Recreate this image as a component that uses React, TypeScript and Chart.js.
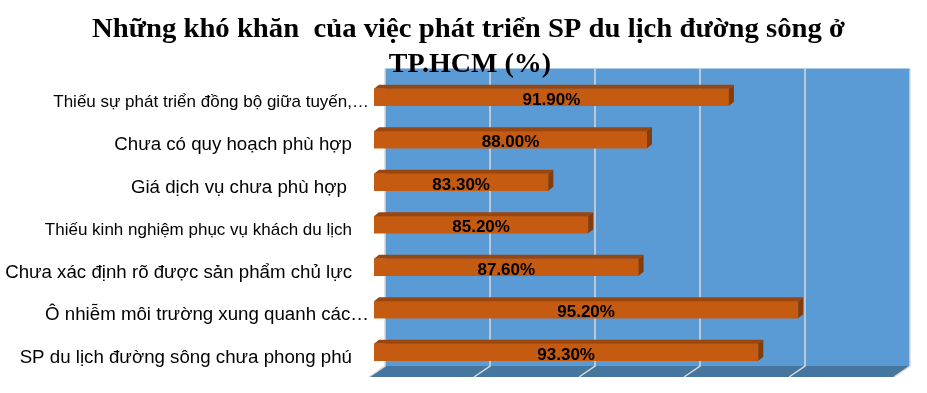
import React, { useEffect, useRef } from 'react';
import { Chart, registerables } from 'chart.js';

Chart.register(...registerables);

const titleLines = ['Những khó khăn  của việc phát triển SP du lịch đường sông ở', 'TP.HCM (%)'];

const categories = [
  'Thiếu sự phát triển đồng bộ giữa tuyến,…',
  'Chưa có quy hoạch phù hợp',
  'Giá dịch vụ chưa phù hợp ',
  'Thiếu kinh nghiệm phục vụ khách du lịch',
  'Chưa xác định rõ được sản phẩm chủ lực',
  'Ô nhiễm môi trường xung quanh các…',
  'SP du lịch đường sông chưa phong phú',
];

const values = [91.9, 88.0, 83.3, 85.2, 87.6, 95.2, 93.3];

const axisMin = 75;
const axisMax = 100;
const axisStep = 5;

// 3D styling constants
const WALL_DX = 11;
const WALL_DY = 7.5;
const FLOOR_DX = 16;
const FLOOR_DY = 11;
const BAR_DX = 5;
const BAR_DY = 4;
const smallLabelIndexes = [0, 3];
const TITLE_WIDTH = 753;

const threeDPlugin = {
  id: 'threeD',
  beforeDatasetsDraw(chart: any) {
    const { ctx, chartArea: ca, scales } = chart;
    const x = scales.x;
    const wl = ca.left + WALL_DX;
    const wr = ca.right + WALL_DX;
    const wt = ca.top - WALL_DY;
    const wb = ca.bottom - WALL_DY;
    ctx.save();
    ctx.fillStyle = '#5B9BD5';
    ctx.fillRect(wl, wt, wr - wl, wb - wt);
    ctx.fillStyle = '#45769F';
    ctx.beginPath();
    ctx.moveTo(wl, wb);
    ctx.lineTo(wr, wb);
    ctx.lineTo(wr - FLOOR_DX, wb + FLOOR_DY);
    ctx.lineTo(wl - FLOOR_DX, wb + FLOOR_DY);
    ctx.closePath();
    ctx.fill();
    ctx.strokeStyle = '#D9D9D9';
    ctx.lineWidth = 1.5;
    for (let v = axisMin; v <= axisMax; v += axisStep) {
      const px = Math.round(x.getPixelForValue(v) + WALL_DX);
      ctx.beginPath();
      ctx.moveTo(px, wt);
      ctx.lineTo(px, wb);
      ctx.lineTo(px - FLOOR_DX, wb + FLOOR_DY);
      ctx.stroke();
    }
    ctx.restore();
  },
  afterDatasetsDraw(chart: any) {
    const { ctx, chartArea: ca } = chart;
    const meta = chart.getDatasetMeta(0);
    ctx.save();
    meta.data.forEach((el: any, i: number) => {
      const p = el.getProps(['x', 'y', 'base', 'height'], true);
      const top = p.y - p.height / 2;
      const bottom = p.y + p.height / 2;
      const left = Math.max(Math.min(p.base, p.x), ca.left);
      const right = Math.max(p.base, p.x);
      ctx.fillStyle = '#9A460F';
      ctx.beginPath();
      ctx.moveTo(left, top);
      ctx.lineTo(left + BAR_DX, top - BAR_DY);
      ctx.lineTo(right + BAR_DX, top - BAR_DY);
      ctx.lineTo(right, top);
      ctx.closePath();
      ctx.fill();
      ctx.fillStyle = '#843C0C';
      ctx.beginPath();
      ctx.moveTo(right, top);
      ctx.lineTo(right + BAR_DX, top - BAR_DY);
      ctx.lineTo(right + BAR_DX, bottom - BAR_DY);
      ctx.lineTo(right, bottom);
      ctx.closePath();
      ctx.fill();
      ctx.fillStyle = '#000000';
      ctx.font = 'bold 17px "Liberation Sans", Arial, sans-serif';
      ctx.textAlign = 'center';
      ctx.textBaseline = 'alphabetic';
      ctx.fillText(values[i].toFixed(2) + '%', (left + right) / 2, p.y + 7.5);
    });
    ctx.restore();
  },
  afterDraw(chart: any) {
    const { ctx, chartArea: ca, scales } = chart;
    const y = scales.y;
    ctx.save();
    ctx.fillStyle = '#000000';
    ctx.textAlign = 'right';
    ctx.textBaseline = 'alphabetic';
    categories.forEach((label, i) => {
      const size = smallLabelIndexes.includes(i) ? 17 : 18.7;
      ctx.font = `${size}px "Liberation Sans", Arial, sans-serif`;
      const py = y.getPixelForValue(i);
      const xr = label.endsWith('…') ? ca.left - 5 : ca.left - 22;
      ctx.fillText(label, xr, py + size * 0.358 + 4);
    });
    ctx.font = 'bold 28px "Liberation Serif", "Times New Roman", serif';
    ctx.textAlign = 'center';
    const cx = chart.width / 2 + 5;
    const w = ctx.measureText(titleLines[0]).width;
    const sx = TITLE_WIDTH / w;
    ctx.save();
    ctx.translate(cx, 0);
    ctx.scale(sx, 1);
    ctx.fillText(titleLines[0], 0, 36.7);
    ctx.restore();
    ctx.fillText(titleLines[1], cx + 1.5, 72);
    ctx.restore();
  },
};

export default function App() {
  const ref = useRef<HTMLCanvasElement | null>(null);
  useEffect(() => {
    document.body.style.margin = '0';
    if (!ref.current) return;
    const chart = new Chart(ref.current, {
      type: 'bar',
      data: {
        labels: categories,
        datasets: [
          {
            data: values,
            backgroundColor: '#C55A11',
            borderWidth: 0,
            barThickness: 17,
          },
        ],
      },
      options: {
        indexAxis: 'y',
        animation: false,
        responsive: false,
        layout: { padding: { left: 374, right: 28, top: 76, bottom: 19.5 } },
        plugins: {
          legend: { display: false },
          tooltip: { enabled: false },
          title: { display: false },
        },
        scales: {
          x: { display: false, min: axisMin, max: axisMax, ticks: { stepSize: axisStep } },
          y: { display: false },
        },
      },
      plugins: [threeDPlugin],
    });
    return () => chart.destroy();
  }, []);
  return (
    <div style={{ width: 927, height: 393 }}>
      <canvas ref={ref} width={927} height={393} style={{ display: 'block' }} />
    </div>
  );
}
